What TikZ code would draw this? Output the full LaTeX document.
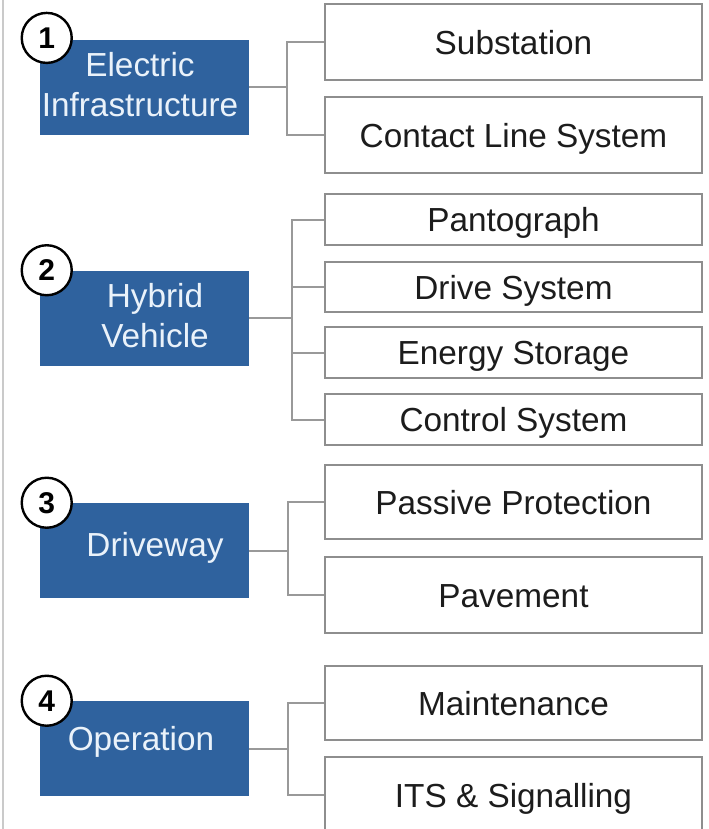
\documentclass[tikz,border=0pt]{standalone}
\usepackage{fontspec}
\setmainfont{Liberation Sans}
\definecolor{catblue}{HTML}{2F629E}
\definecolor{catfg}{HTML}{EAF2FA}
\definecolor{boxgray}{HTML}{8E8E8E}
\definecolor{linegray}{HTML}{999999}
\definecolor{edgegray}{HTML}{CACACA}
\definecolor{textdark}{HTML}{1C1C1C}
\begin{document}
\begin{tikzpicture}[x=0.75pt,y=-0.75pt,
  catbox/.style={fill=catblue, minimum width=156.75pt, minimum height=71.25pt, inner sep=0pt},
  cattext/.style={text=catfg, align=center, inner sep=0pt,
    font=\fontsize{25}{30}\selectfont},
  itembox/.style={draw=boxgray, line width=1.5pt, fill=white, minimum width=282.75pt,
    inner sep=0pt, text height=18pt, text depth=0pt, text=textdark,
    font=\fontsize{25}{30}\selectfont},
  numdisc/.style={circle, draw=black, line width=1.8pt, fill=white, minimum size=37.5pt,
    inner sep=0pt, font=\fontsize{22.5}{22.5}\selectfont\bfseries},
  link/.style={draw=linegray, line width=1.5pt}]
\useasboundingbox (0,0) rectangle (708,829);
\fill[white] (0,0) rectangle (708,829);
\draw[edgegray, line width=1.5pt] (3,0) -- (3,829);

% category boxes
\node[catbox] (b1) at (144.5,87) {};
\node[catbox] (b2) at (144.5,318) {};
\node[catbox] (b3) at (144.5,550.5) {};
\node[catbox] (b4) at (144.5,748.5) {};
\node[cattext] (t1) at (140,85) {Electric\\Infrastructure};
\node[cattext] (t2) at (155,316) {Hybrid\\Vehicle};
\node[cattext] (t3) at (155,548) {Driveway};
\node[cattext] (t4) at (141,742) {Operation};

% component boxes
\node[itembox, minimum height=57pt] (s1) at (513.5,42) {Substation};
\node[itembox, minimum height=57pt] (s2) at (513.5,135) {Contact Line System};
\node[itembox, minimum height=38pt] (v1) at (513.5,219.5) {Pantograph};
\node[itembox, minimum height=38pt] (v2) at (513.5,287) {Drive System};
\node[itembox, minimum height=38pt] (v3) at (513.5,352.5) {Energy Storage};
\node[itembox, minimum height=38pt] (v4) at (513.5,419.5) {Control System};
\node[itembox, minimum height=56pt] (d1) at (513.5,502) {Passive Protection};
\node[itembox, minimum height=57pt] (d2) at (513.5,595) {Pavement};
\node[itembox, minimum height=56pt] (o1) at (513.5,703) {Maintenance};
\node[itembox, minimum height=57pt] (o2) at (513.5,795) {ITS \& Signalling};

% tree connectors
\coordinate (j1) at (287,87);
\coordinate (j2) at (292,318);
\coordinate (j3) at (288,550.5);
\coordinate (j4) at (288,748.5);
\draw[link] (b1.east) -- (j1);
\draw[link] (s1.west) -| (j1) |- (s2.west);
\draw[link] (b2.east) -- (j2);
\draw[link] (v1.west) -| (j2) |- (v4.west);
\draw[link] (v2.west) -- (v2.west -| j2);
\draw[link] (v3.west) -- (v3.west -| j2);
\draw[link] (b3.east) -- (j3);
\draw[link] (d1.west) -| (j3) |- (d2.west);
\draw[link] (b4.east) -- (j4);
\draw[link] (o1.west) -| (j4) |- (o2.west);

% numbered discs
\node[numdisc, xshift=5.25pt, yshift=1pt] (n1) at (b1.north west) {1};
\node[numdisc, xshift=5.25pt] (n2) at (b2.north west) {2};
\node[numdisc, xshift=5.25pt] (n3) at (b3.north west) {3};
\node[numdisc, xshift=5.25pt] (n4) at (b4.north west) {4};
\end{tikzpicture}
\end{document}
